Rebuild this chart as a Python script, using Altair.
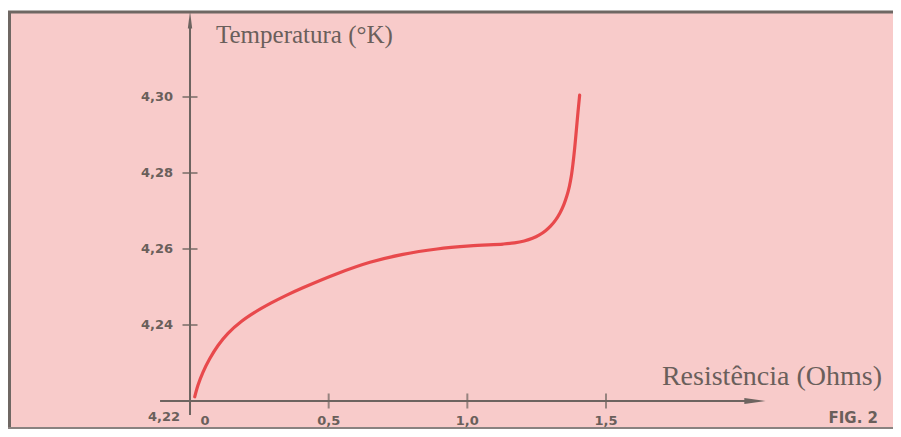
import altair as alt
import pandas as pd

# Curve values
resistance = [0.017, 0.029, 0.047, 0.071, 0.101, 0.137, 0.185, 0.233, 0.293, 0.347,
              0.407, 0.530, 0.649, 0.768, 0.891, 1.010, 1.129, 1.170, 1.205, 1.235,
              1.260, 1.282, 1.300, 1.318, 1.334, 1.348, 1.359, 1.368, 1.375, 1.381,
              1.387, 1.393, 1.399, 1.405]
temperature = [4.2211, 4.2242, 4.2276, 4.2311, 4.2346, 4.2378, 4.2409, 4.2433, 4.2458, 4.2478,
               4.2498, 4.2535, 4.2565, 4.2586, 4.2600, 4.2608, 4.2613, 4.2616, 4.2621, 4.2628,
               4.2637, 4.2648, 4.2660, 4.2676, 4.2695, 4.2717, 4.2740, 4.2765, 4.2792, 4.2825,
               4.2865, 4.2912, 4.2960, 4.3005]

y_ticks = [4.24, 4.26, 4.28, 4.30]
y_tick_labels = ["4,24", "4,26", "4,28", "4,30"]
x_ticks = [0.5, 1.0, 1.5]
x_tick_labels = ["0,5", "1,0", "1,5"]
origin_x, origin_y = 0.0, 4.22
origin_x_label, origin_y_label = "0", "4,22"
x_axis_end, y_axis_end = 2.037, 4.3203
x_axis_start, y_axis_start = -0.108, 4.2163

x_title = "Resistência (Ohms)"
y_title = "Temperatura (°K)"
fig_label = "FIG. 2"

W, H = 885, 421
xs = alt.Scale(domain=[-0.6563, 2.5349], nice=False, zero=False)
ys = alt.Scale(domain=[4.32342 - H / 3800, 4.32342], nice=False, zero=False)

AX = "#6d6460"
TXT = "#6a5f5b"
RED = "#e8494c"
PINK = "#f8cbca"

curve = pd.DataFrame({"R": resistance, "T": temperature})
yt = pd.DataFrame({"T": y_ticks, "lab": y_tick_labels, "R": [origin_x] * len(y_ticks)})
xt = pd.DataFrame({"R": x_ticks, "lab": x_tick_labels, "T": [origin_y] * len(x_ticks)})
origin = pd.DataFrame({"R": [origin_x], "T": [origin_y], "xl": [origin_x_label], "yl": [origin_y_label]})
axes = pd.DataFrame({"R": [x_axis_start, origin_x], "R2": [x_axis_end, origin_x],
                     "T": [origin_y, y_axis_start], "T2": [origin_y, y_axis_end]})
arrows = pd.DataFrame({"R": [x_axis_end, origin_x], "T": [origin_y, y_axis_end],
                       "dir": ["right", "up"]})

X = lambda f="R": alt.X(f"{f}:Q", scale=xs, axis=None)
Y = lambda f="T": alt.Y(f"{f}:Q", scale=ys, axis=None)

bg = alt.Chart(origin).mark_rect(color=PINK).encode(
    x=alt.value(0), x2=alt.value(W), y=alt.value(3), y2=alt.value(H))
border_top = alt.Chart(origin).mark_rule(color="#6f6763", strokeWidth=3).encode(
    x=alt.value(0), x2=alt.value(W), y=alt.value(4))
border_left = alt.Chart(origin).mark_rule(color="#6f6763", strokeWidth=3).encode(
    x=alt.value(1.5), y=alt.value(3), y2=alt.value(H))
border_bot = alt.Chart(origin).mark_rule(color="#8a8280", strokeWidth=2).encode(
    x=alt.value(0), x2=alt.value(W), y=alt.value(H - 1))

axis_lines = alt.Chart(axes).mark_rule(color=AX, strokeWidth=2).encode(
    x=X("R"), x2="R2:Q", y=Y("T"), y2="T2:Q")

arrow_r = alt.Chart(arrows[arrows.dir == "right"]).mark_point(
    shape="M1,0L-1,0.28L-1,-0.28Z", filled=True, color=AX, opacity=1, size=450).encode(
    x=X(), y=Y())
arrow_u = alt.Chart(arrows[arrows.dir == "up"]).mark_point(
    shape="M0,-1L0.25,1L-0.25,1Z", filled=True, color=AX, opacity=1, size=300).encode(
    x=X(), y=Y())

ytick_marks = alt.Chart(yt).mark_tick(orient="horizontal", color=AX, thickness=2, size=15).encode(
    x=X(), y=Y())
xtick_marks = alt.Chart(xt).mark_tick(orient="vertical", color=AX, thickness=2, size=15).encode(
    x=X(), y=Y())

tick_font = dict(font="DejaVu Sans", fontWeight="bold", fontSize=13, color=TXT)
ytick_text = alt.Chart(yt).mark_text(align="right", baseline="middle", dx=-17, **tick_font).encode(
    x=X(), y=Y(), text="lab:N")
xtick_text = alt.Chart(xt).mark_text(align="center", baseline="middle", dy=20, **tick_font).encode(
    x=X(), y=Y(), text="lab:N")
origin_x_text = alt.Chart(origin).mark_text(align="center", baseline="middle", dx=15, dy=20, **tick_font).encode(
    x=X(), y=Y(), text="xl:N")
origin_y_text = alt.Chart(origin).mark_text(align="right", baseline="middle", dx=-10, dy=16, **tick_font).encode(
    x=X(), y=Y(), text="yl:N")

y_title_text = alt.Chart(origin).mark_text(align="left", baseline="alphabetic", font="Liberation Serif",
                                           fontSize=25, color=TXT).encode(
    x=alt.value(208), y=alt.value(35), text=alt.value(y_title))
x_title_text = alt.Chart(origin).mark_text(align="right", baseline="alphabetic", font="Liberation Serif",
                                           fontSize=28, color=TXT).encode(
    x=alt.value(874), y=alt.value(377), text=alt.value(x_title))
fig_text = alt.Chart(origin).mark_text(align="right", baseline="alphabetic", font="DejaVu Sans",
                                       fontWeight="bold", fontSize=15, color=TXT).encode(
    x=alt.value(870), y=alt.value(415), text=alt.value(fig_label))

line = alt.Chart(curve).mark_line(color=RED, strokeWidth=3.2, interpolate="catmull-rom",
                                  strokeCap="round").encode(x=X(), y=Y(), order="R:Q")

chart = alt.layer(
    bg, border_top, border_left, border_bot, axis_lines, arrow_r, arrow_u,
    ytick_marks, xtick_marks, ytick_text, xtick_text, origin_x_text, origin_y_text,
    y_title_text, x_title_text, fig_text, line
).properties(
    width=W, height=H, autosize=alt.AutoSizeParams(type="none"),
    padding={"left": 0, "top": 0, "right": 0, "bottom": 0}, background="white"
).configure_view(stroke="transparent", strokeWidth=0)

chart.save("out.html", embed_options={"renderer": "svg", "actions": False})
